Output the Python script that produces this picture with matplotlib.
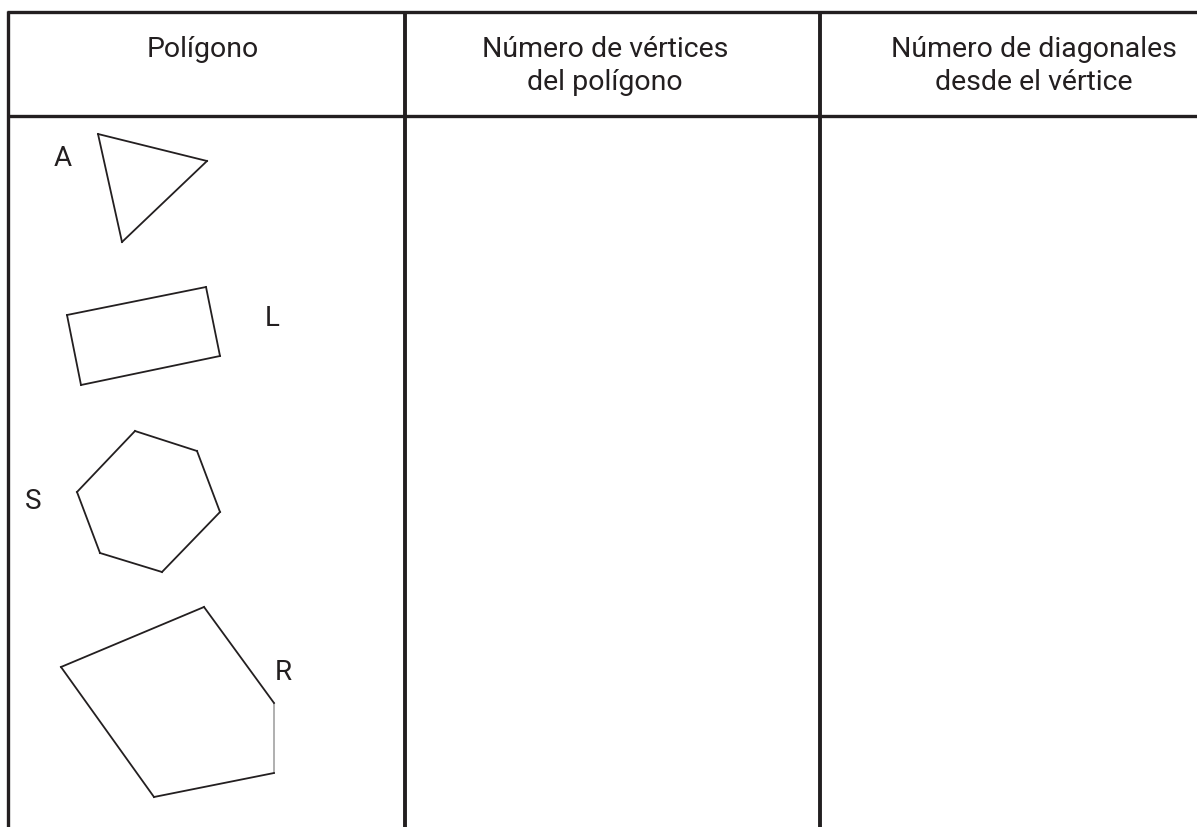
import matplotlib

matplotlib.use("Agg")
import matplotlib.pyplot as plt  # noqa: E402

# --------------------------------------------------------------------------- #
# Table content (pixel coordinates of the page, y grows downwards)
# --------------------------------------------------------------------------- #
headers = ["Polígono", "Número de vértices\ndel polígono",
           "Número de diagonales\ndesde el vértice"]
header_x = [203, 605, 1034]

col_edges = [8, 405, 820]
row_edges = [13, 117]

shape_names = ["A", "L", "S", "R"]
label_pos = [(63, 158), (272, 319), (33, 502), (283, 673)]

triangle_A = [(98, 135), (207, 162), (122, 243)]
rectangle_L = [(67, 316), (206, 288), (220, 357), (81, 386)]
hexagon_S = [(135, 432), (197, 452), (220, 513), (162, 573), (100, 554), (77, 493)]
pentagon_R = [(61, 668), (204, 608), (274, 704), (274, 774), (154, 798)]
shapes = [triangle_A, rectangle_L, hexagon_S, pentagon_R]
# the scan left one edge of R lighter than the rest
faded_edges = {("R", 2)}

W, H = 1197, 828
INK = "#231f20"
FADED = "#a9a9a9"
FONT = ["Roboto", "DejaVu Sans"]

fig = plt.figure(figsize=(W / 100, H / 100), dpi=100)
ax = fig.add_axes([0, 0, 1, 1])
ax.set_xlim(0, W)
ax.set_ylim(H, 0)
ax.axis("off")

# grid lines
for y in row_edges:
    ax.plot([col_edges[0] - 1.5, W], [y, y], color=INK, lw=2.4,
            solid_capstyle="butt")
for i, x in enumerate(col_edges):
    ax.plot([x, x], [row_edges[0] - 1.5, H], color=INK,
            lw=2.4 if i == 0 else 2.8, solid_capstyle="butt")

# header texts, first lines share one top
for text, x in zip(headers, header_x):
    ax.text(x, 36, text, ha="center", va="top", fontsize=20.5,
            family=FONT, color=INK, linespacing=1.3)

# polygons edge by edge, and their labels
for verts, name, (lx, ly) in zip(shapes, shape_names, label_pos):
    n = len(verts)
    for k in range(n):
        (x0, y0), (x1, y1) = verts[k], verts[(k + 1) % n]
        c = FADED if (name, k) in faded_edges else INK
        ax.plot([x0, x1], [y0, y1], color=c, lw=1.3,
                solid_capstyle="projecting", zorder=3 if c == INK else 2)
    ax.text(lx, ly, name, ha="center", va="center", fontsize=20,
            family=FONT, color=INK)

fig.savefig("out.png", dpi=100)
